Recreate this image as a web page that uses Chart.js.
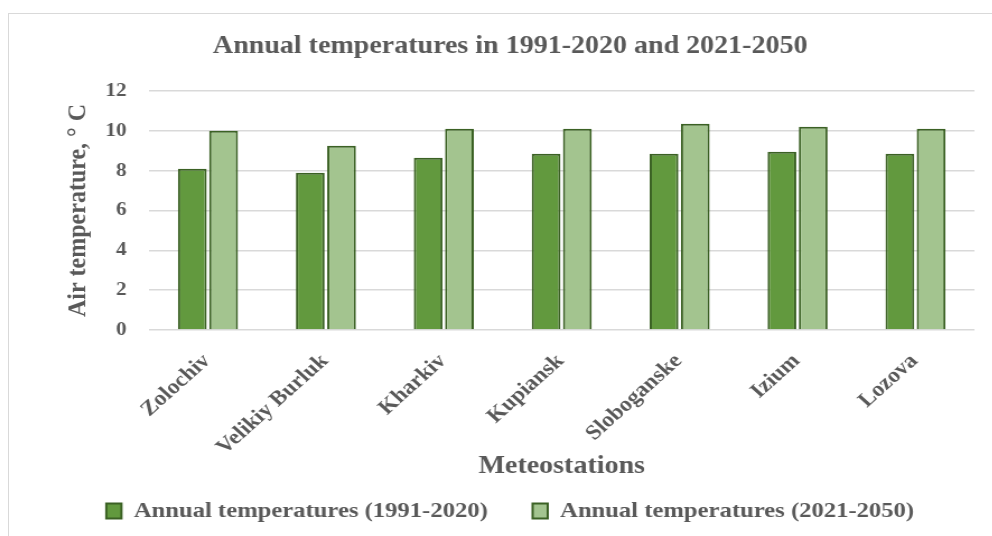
<!DOCTYPE html>
<html>
<head>
<meta charset="utf-8">
<script src="https://cdn.jsdelivr.net/npm/chart.js@4.4.1/dist/chart.umd.min.js"></script>
<style>
  html, body { margin: 0; padding: 0; background: #ffffff; overflow: hidden; width: 992px; height: 536px; }
  #frame {
    position: absolute; left: 8px; top: 13px;
    width: 998px; height: 530px;
    border: 1px solid #d9d9d9; box-sizing: border-box;
    overflow: hidden; background: #ffffff;
  }
  #stretch {
    position: absolute; left: 0; top: 0;
    width: 891px; height: 523px;
    transform: scaleX(1.12); transform-origin: 0 0;
  }
</style>
</head>
<body>
<div id="frame"><div id="stretch"><canvas id="chart" width="891" height="523" style="width:891px;height:523px"></canvas></div></div>
<script>
// Meteostations of Kharkiv region
const stations = ['Zolochiv', 'Velikiy Burluk', 'Kharkiv', 'Kupiansk', 'Sloboganske', 'Izium', 'Lozova'];
// Mean annual air temperature, °C
const temps1991_2020 = [8.1, 7.9, 8.65, 8.85, 8.85, 8.95, 8.85];
const temps2021_2050 = [10.0, 9.25, 10.1, 10.1, 10.35, 10.2, 10.1];
const seriesNames = ['Annual temperatures (1991-2020)', 'Annual temperatures (2021-2050)'];
const yTicks = [0, 2, 4, 6, 8, 10, 12];

const serif = "'Liberation Serif', 'Times New Roman', serif";
const textGrey = '#595959';
const edgeGreen = '#3b6124';

new Chart(document.getElementById('chart'), {
  type: 'bar',
  data: {
    labels: stations,
    datasets: [
      { label: seriesNames[0], data: temps1991_2020, backgroundColor: '#62993e', borderColor: edgeGreen, borderWidth: 2 },
      { label: seriesNames[1], data: temps2021_2050, backgroundColor: '#a3c48f', borderColor: edgeGreen, borderWidth: 2 }
    ]
  },
  options: {
    responsive: false,
    animation: false,
    devicePixelRatio: 1,
    layout: { padding: { left: 33, right: 29, top: 0, bottom: 5 } },
    datasets: { bar: { categoryPercentage: 0.53, barPercentage: 0.92 } },
    plugins: {
      title: {
        display: true,
        text: 'Annual temperatures in 1991-2020 and 2021-2050',
        color: textGrey,
        font: { family: serif, size: 25, weight: 'bold' },
        padding: { top: 18, bottom: 29 }
      },
      legend: {
        position: 'bottom',
        labels: {
          color: textGrey,
          font: { family: serif, size: 22, weight: 'bold' },
          boxWidth: 13.5, boxHeight: 15,
          padding: 40
        }
      },
      tooltip: { enabled: false }
    },
    scales: {
      x: {
        afterFit: (scale) => { scale.height = 130; },
        grid: { display: false, drawTicks: false },
        border: { display: false },
        ticks: {
          color: textGrey,
          font: { family: serif, size: 21, weight: 'bold' },
          minRotation: 45, maxRotation: 45,
          padding: 19,
          labelOffset: -1
        },
        title: {
          display: true,
          text: 'Meteostations',
          color: textGrey,
          font: { family: serif, size: 25, weight: 'bold' },
          padding: { top: 0, bottom: -22 }
        }
      },
      y: {
        min: 0, max: 12,
        afterFit: (scale) => { scale.width = 92; },
        afterBuildTicks: (scale) => { scale.ticks = yTicks.map(v => ({ value: v })); },
        grid: { color: '#d9d9d9', lineWidth: 1.5, drawTicks: false },
        border: { display: false },
        ticks: {
          color: textGrey,
          font: { family: serif, size: 19, weight: 'bold' },
          padding: 20
        },
        title: {
          display: true,
          text: 'Air temperature, ° C',
          color: textGrey,
          font: { family: serif, size: 24, weight: 'bold' },
          padding: { top: 14, bottom: 0 }
        }
      }
    }
  }
});
</script>
</body>
</html>
